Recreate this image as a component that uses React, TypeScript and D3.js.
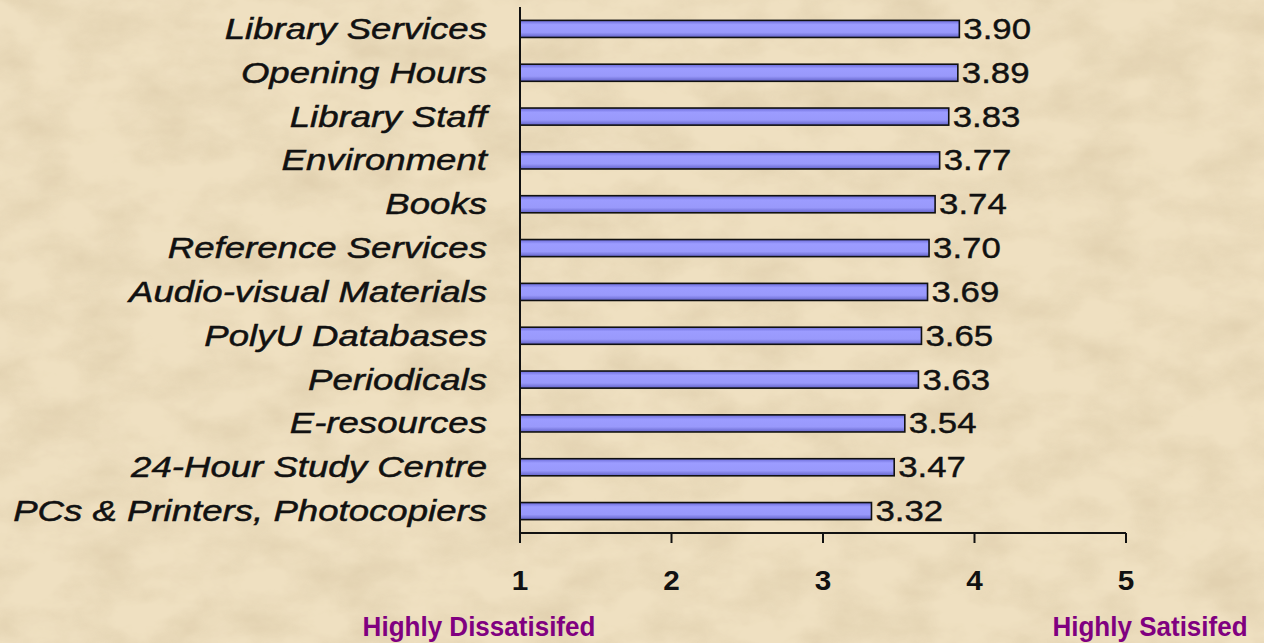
import React from "react";
import * as d3 from "d3";

const categories = [
  "Library Services",
  "Opening Hours",
  "Library Staff ",
  "Environment",
  "Books",
  "Reference Services",
  "Audio-visual Materials",
  "PolyU Databases",
  "Periodicals",
  "E-resources",
  "24-Hour Study Centre",
  "PCs & Printers, Photocopiers",
];
const values = [3.9, 3.89, 3.83, 3.77, 3.74, 3.7, 3.69, 3.65, 3.63, 3.54, 3.47, 3.32];
const xTicks = [1, 2, 3, 4, 5];
const scaleLabels = ["Highly Dissatisifed", "Highly Satisifed"];

const W = 1264;
const H = 643;

export default function App() {
  const x = d3.scaleLinear().domain([1, 5]).range([520, 1126]);
  const y = d3.scaleBand<string>().domain(categories).range([7, 533]).paddingInner(0.61).paddingOuter(0.305);
  const bw = y.bandwidth();
  const font = "'Liberation Sans', Arial, sans-serif";

  return (
    <div style={{ position: "fixed", left: 0, top: 0 }}>
      <svg width={W} height={H} style={{ display: "block" }}>
        <defs>
          <filter id="parch" x="0" y="0" width="100%" height="100%">
            <feTurbulence type="fractalNoise" baseFrequency="0.015 0.025" numOctaves="5" seed="7" result="n" />
            <feColorMatrix
              in="n"
              type="matrix"
              values="0 0 0 0 0.7  0 0 0 0 0.58  0 0 0 0 0.38  0 0 0 1.9 -0.68"
            />
          </filter>
          <linearGradient id="barg" x1="0" y1="0" x2="0" y2="1">
            <stop offset="0%" stopColor="#6a6ad8" />
            <stop offset="25%" stopColor="#9c9cff" />
            <stop offset="70%" stopColor="#9999fb" />
            <stop offset="100%" stopColor="#6262c8" />
          </linearGradient>
        </defs>
        <rect width={W} height={H} fill="#efe0c1" />
        <rect width={W} height={H} filter="url(#parch)" opacity={0.6} />

        {categories.map((c, i) => {
          const cy = (y(c) as number) + bw / 2;
          return (
            <g key={c}>
              <rect
                x={x(1)}
                y={y(c)}
                width={x(values[i]) - x(1)}
                height={bw}
                fill="url(#barg)"
                stroke="#111"
                strokeWidth={1.6}
              />
              <g transform={`translate(487,${cy + 10}) scale(1.22,1)`}>
                <text
                  textAnchor="end"
                  fontFamily={font}
                  fontStyle="italic"
                  fontSize={30}
                  fill="#111"
                  stroke="#111"
                  strokeWidth={0.5}
                >
                  {c}
                </text>
              </g>
              <g transform={`translate(${x(values[i]) + 4},${cy + 10}) scale(1.2,1)`}>
                <text fontFamily={font} fontSize={29} fill="#111" stroke="#111" strokeWidth={0.4}>
                  {values[i].toFixed(2)}
                </text>
              </g>
            </g>
          );
        })}

        <line x1={x(1)} x2={x(1)} y1={7} y2={533} stroke="#111" strokeWidth={2} />
        <line x1={x(1)} x2={x(5)} y1={533} y2={533} stroke="#111" strokeWidth={2} />
        {xTicks.map((t) => (
          <g key={t}>
            <line x1={x(t)} x2={x(t)} y1={533} y2={543} stroke="#111" strokeWidth={2} />
            <g transform={`translate(${x(t)},590) scale(1.1,1)`}>
              <text textAnchor="middle" fontFamily={font} fontWeight="bold" fontSize={27} fill="#111">
                {t}
              </text>
            </g>
          </g>
        ))}

        <g transform="translate(479,636) scale(0.93,1)">
          <text textAnchor="middle" fontFamily={font} fontWeight="bold" fontSize={28} fill="#800080">
            {scaleLabels[0]}
          </text>
        </g>
        <g transform="translate(1150,636) scale(0.93,1)">
          <text textAnchor="middle" fontFamily={font} fontWeight="bold" fontSize={28} fill="#800080">
            {scaleLabels[1]}
          </text>
        </g>
      </svg>
    </div>
  );
}
